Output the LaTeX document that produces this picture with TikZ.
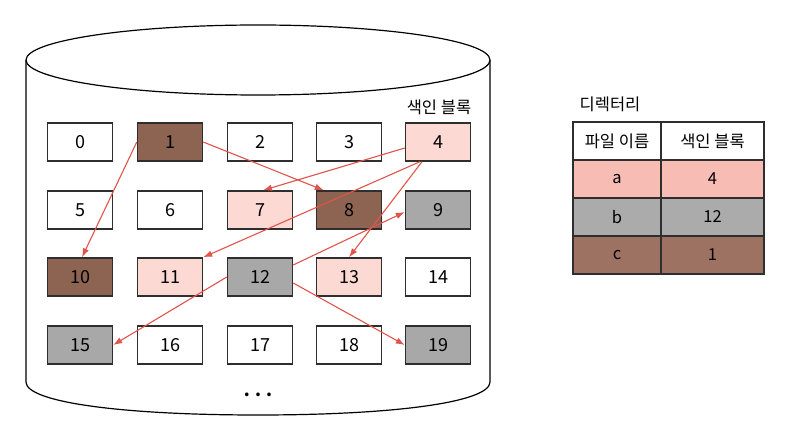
\documentclass[tikz,border=0pt]{standalone}
\usepackage{fontspec}
\setmainfont{Noto Sans CJK KR}
\usetikzlibrary{arrows.meta}
\definecolor{cbrown}{HTML}{8C6451}
\definecolor{cpink}{HTML}{FCD9D3}
\definecolor{cgray}{HTML}{A8A8A8}
\definecolor{tpink}{HTML}{F7BDB4}
\definecolor{tgray}{HTML}{ABABAB}
\definecolor{tbrown}{HTML}{9E7262}
\definecolor{cred}{HTML}{E0544B}
\definecolor{cline}{HTML}{2E2E2E}
\tikzset{
  blk/.style={draw=cline, line width=1.4pt, fill=white, minimum width=65pt, minimum height=38pt, inner sep=0pt, font=\fontsize{18}{18}\selectfont},
  brownblk/.style={blk, fill=cbrown},
  pinkblk/.style={blk, fill=cpink},
  grayblk/.style={blk, fill=cgray},
  cell/.style={draw=cline, line width=1.4pt, minimum height=38pt, inner sep=0pt, font=\fontsize{16.5}{16.5}\selectfont},
  ptr/.style={draw=cred, line width=1.1pt, -{Latex[length=9pt,width=6.5pt]}},
  lbl/.style={font=\fontsize{16.5}{16.5}\selectfont, inner sep=0pt}
}
\begin{document}
\begin{tikzpicture}[x=1pt,y=-1pt]
\useasboundingbox (0,0) rectangle (806,430);
% cylinder
\draw[line width=1.2pt, fill=white] (26,60) -- (26,382) .. controls (26,402) and (120,415) .. (258,415) .. controls (396,415) and (490,402) .. (490,382) -- (490,60);
\draw[line width=1.2pt, fill=white] (258,60) ellipse [x radius=232, y radius=35];
\node[lbl] (lblidx) at (439,107) {색인 블록};
\node[font=\fontsize{17}{17}\selectfont\bfseries, inner sep=0pt] (dots) at (258,395) {. . .};
% blocks
\node[blk]      (b0)  at (80,142)  {0};
\node[brownblk] (b1)  at (170,142) {1};
\node[blk]      (b2)  at (260,142) {2};
\node[blk]      (b3)  at (349,142) {3};
\node[pinkblk]  (b4)  at (438,142) {4};
\node[blk]      (b5)  at (80,210)  {5};
\node[blk]      (b6)  at (170,210) {6};
\node[pinkblk]  (b7)  at (260,210) {7};
\node[brownblk] (b8)  at (349,210) {8};
\node[grayblk]  (b9)  at (438,210) {9};
\node[brownblk] (b10) at (80,277)  {10};
\node[pinkblk]  (b11) at (170,277) {11};
\node[grayblk]  (b12) at (260,277) {12};
\node[pinkblk]  (b13) at (349,277) {13};
\node[blk]      (b14) at (438,277) {14};
\node[grayblk]  (b15) at (80,345)  {15};
\node[blk]      (b16) at (170,345) {16};
\node[blk]      (b17) at (260,345) {17};
\node[blk]      (b18) at (349,345) {18};
\node[grayblk]  (b19) at (438,345) {19};
% pointers
\draw[ptr] (b1.west) -- ([xshift=2pt]b10.north);
\draw[ptr] (b1.east) -- ([xshift=8pt]b8.north west);
\draw[ptr] ([yshift=-6pt]b4.west) -- ([xshift=3pt]b7.north);
\draw[ptr] ([xshift=-18pt]b4.south) -- (b11.north east);
\draw[ptr] ([xshift=-16pt]b4.south) -- (b13.north);
\draw[ptr] ([yshift=12pt]b12.east) -- ([yshift=-2pt]b9.west);
\draw[ptr] (b12.west) -- (b15.east);
\draw[ptr] ([yshift=-6pt]b12.east) -- (b19.west);
% directory table
\node[lbl] (dirlbl) at (610,104) {디렉터리};
\node[cell, minimum width=88pt, fill=white] (h1) at (617,141) {파일 이름};
\node[cell, minimum width=103pt, fill=white] (h2) at (712.5,141) {색인 블록};
\node[cell, minimum width=88pt, fill=tpink] (a1) at (617,179) {a};
\node[cell, minimum width=103pt, fill=tpink] (a2) at (712.5,179) {4};
\node[cell, minimum width=88pt, fill=tgray] (bb1) at (617,217) {b};
\node[cell, minimum width=103pt, fill=tgray] (bb2) at (712.5,217) {12};
\node[cell, minimum width=88pt, fill=tbrown] (c1) at (617,255) {c};
\node[cell, minimum width=103pt, fill=tbrown] (c2) at (712.5,255) {1};
\end{tikzpicture}
\end{document}
